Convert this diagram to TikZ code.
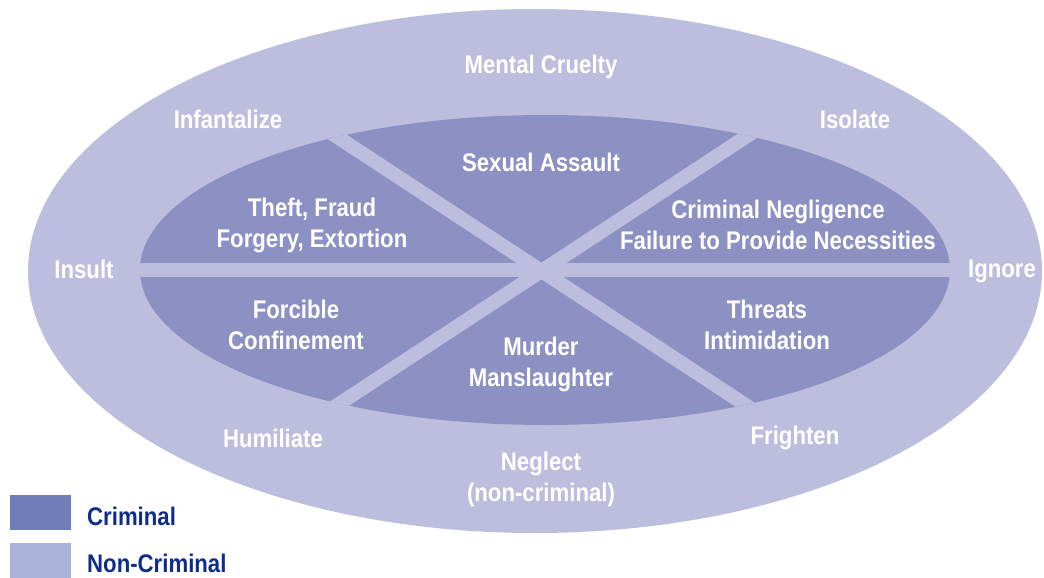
\documentclass[tikz,border=0pt]{standalone}
\usepackage{fontspec}
\setmainfont{Liberation Sans}[FakeStretch=0.87]
\definecolor{ringcol}{HTML}{BDBEDD}
\definecolor{corecol}{HTML}{8C90C2}
\definecolor{keydark}{HTML}{6F7DB8}
\definecolor{keylight}{HTML}{A9B3D8}
\definecolor{navy}{HTML}{0D2C8C}
\tikzset{
  lbl/.style={text=white, font=\bfseries\fontsize{25.5}{31}\selectfont, align=center, inner sep=0pt},
  keytext/.style={text=navy, font=\bfseries\fontsize{25.5}{31}\selectfont, anchor=west, inner sep=0pt},
  keybox/.style={minimum width=61pt, minimum height=35pt, inner sep=0pt, draw=none},
  divider/.style={draw=ringcol, line width=14pt}
}
\begin{document}
\begin{tikzpicture}[x=1pt,y=-1pt]
\useasboundingbox (0,0) rectangle (1044,578);
% outer ring and inner core
\fill[ringcol] (535,271) ellipse [x radius=507pt, y radius=262pt];
\fill[corecol] (545,270) ellipse [x radius=405pt, y radius=155pt];
% dividers across the core
\coordinate (h1) at (120,270);
\coordinate (h2) at (970,270);
\coordinate (d1) at (310,119);
\coordinate (d2) at (773,423);
\coordinate (d3) at (773,119);
\coordinate (d4) at (310,423);
\begin{scope}
  \clip (545,270) ellipse [x radius=405pt, y radius=155pt];
  \draw[divider] (h1) -- (h2);
  \draw[divider] (d1) -- (d2);
  \draw[divider] (d3) -- (d4);
\end{scope}
% non-criminal ring labels
\node[lbl] (mental) at (541,67) {Mental Cruelty};
\node[lbl] (infant) at (228,119) {Infantalize};
\node[lbl] (isolate) at (855,119) {Isolate};
\node[lbl] (insult) at (84,269) {Insult};
\node[lbl] (ignore) at (1002,271) {Ignore};
\node[lbl] (humil) at (273,438) {Humiliate};
\node[lbl] (fright) at (795,438) {Frighten};
\node[lbl] (neglect) at (541,479) {Neglect\\(non-criminal)};
% criminal core labels
\node[lbl] (sexual) at (541,162) {Sexual Assault};
\node[lbl] (theft) at (312,225) {Theft, Fraud\\Forgery, Extortion};
\node[lbl] (negl) at (778,225) {Criminal Negligence\\Failure to Provide Necessities};
\node[lbl] (forc) at (296,325) {Forcible\\Confinement};
\node[lbl] (threat) at (767,325) {Threats\\Intimidation};
\node[lbl] (murder) at (541,364) {Murder\\Manslaughter};
% legend
\node[keybox, fill=keydark] (kc) at (40.5,512.5) {};
\node[keybox, fill=keylight] (kn) at (40.5,560) {};
\node[keytext] (kct) at (87,516) {Criminal};
\node[keytext] (knt) at (87,563) {Non-Criminal};
\end{tikzpicture}
\end{document}
